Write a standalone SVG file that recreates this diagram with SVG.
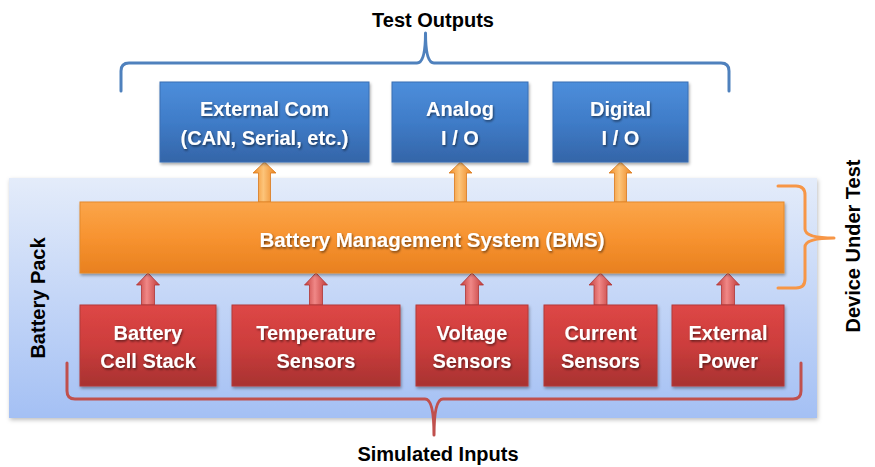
<svg xmlns="http://www.w3.org/2000/svg" width="875" height="467" viewBox="0 0 875 467">
<style>
.lbl{font-family:"Liberation Sans",Arial,sans-serif;font-weight:bold;fill:#000;}
.nt{font-family:"Liberation Sans",Arial,sans-serif;font-weight:bold;fill:#fff;text-anchor:middle;filter:url(#ts);}
.blue{fill:url(#gBlue);stroke:#3a6fb4;stroke-width:1;filter:url(#ds);}
.org{fill:url(#gOrg);stroke:#e58a2a;stroke-width:1;filter:url(#ds);}
.red{fill:url(#gRed);stroke:#b33a38;stroke-width:1;filter:url(#ds);}
.brk{fill:none;stroke-width:3;stroke-linecap:round;stroke-linejoin:round;}
.aO{fill:url(#gArO);stroke:#d9781c;stroke-width:0.8;}
.aR{fill:url(#gArR);stroke:#b03533;stroke-width:0.8;}
</style>
<defs>
<linearGradient id="gPack" x1="0" y1="0" x2="0" y2="1">
<stop offset="0" stop-color="#e4ecfa"/><stop offset="1" stop-color="#a4c0f4"/>
</linearGradient>
<linearGradient id="gBlue" x1="0" y1="0" x2="0" y2="1">
<stop offset="0" stop-color="#4d8edb"/><stop offset="0.5" stop-color="#3f7cc8"/><stop offset="1" stop-color="#3465a8"/>
</linearGradient>
<linearGradient id="gOrg" x1="0" y1="0" x2="0" y2="1">
<stop offset="0" stop-color="#fba54a"/><stop offset="0.5" stop-color="#f79330"/><stop offset="1" stop-color="#e8801f"/>
</linearGradient>
<linearGradient id="gRed" x1="0" y1="0" x2="0" y2="1">
<stop offset="0" stop-color="#de4746"/><stop offset="0.5" stop-color="#cc3d3c"/><stop offset="1" stop-color="#a83231"/>
</linearGradient>
<linearGradient id="gArO" x1="0" y1="0" x2="1" y2="0">
<stop offset="0" stop-color="#f08a22"/><stop offset="0.45" stop-color="#fcc47a"/><stop offset="1" stop-color="#ec8420"/>
</linearGradient>
<linearGradient id="gArR" x1="0" y1="0" x2="1" y2="0">
<stop offset="0" stop-color="#c23b3a"/><stop offset="0.45" stop-color="#f08887"/><stop offset="1" stop-color="#c03938"/>
</linearGradient>
<filter id="ds" x="-10%" y="-10%" width="120%" height="130%">
<feDropShadow dx="1" dy="2" stdDeviation="1.5" flood-color="#000" flood-opacity="0.35"/>
</filter>
<filter id="dsP" x="-5%" y="-5%" width="110%" height="110%">
<feDropShadow dx="1" dy="2" stdDeviation="2" flood-color="#000" flood-opacity="0.25"/>
</filter>
<filter id="ts" x="-10%" y="-20%" width="120%" height="150%">
<feDropShadow dx="1" dy="1.5" stdDeviation="0.8" flood-color="#000" flood-opacity="0.55"/>
</filter>
</defs>

<g id="battery-pack">
<rect x="9" y="178" width="808" height="240" fill="url(#gPack)" filter="url(#dsP)"/>
<text class="lbl" font-size="20" text-anchor="middle" transform="translate(45,298) rotate(-90)">Battery Pack</text>
</g>

<g id="connectors">
<path class="aO" d="M264.5,162 L276,173 L270.5,173 L270.5,202 L258.5,202 L258.5,173 L253,173 Z"/>
<path class="aO" d="M460.5,162 L472,173 L466.5,173 L466.5,202 L454.5,202 L454.5,173 L449,173 Z"/>
<path class="aO" d="M620.5,162 L632,173 L626.5,173 L626.5,202 L614.5,202 L614.5,173 L609,173 Z"/>
<path class="aR" d="M148,273 L159.5,285 L154.5,285 L154.5,305 L141.5,305 L141.5,285 L136.5,285 Z"/>
<path class="aR" d="M316,273 L327.5,285 L322.5,285 L322.5,305 L309.5,305 L309.5,285 L304.5,285 Z"/>
<path class="aR" d="M472,273 L483.5,285 L478.5,285 L478.5,305 L465.5,305 L465.5,285 L460.5,285 Z"/>
<path class="aR" d="M600.5,273 L612,285 L607,285 L607,305 L594,305 L594,285 L589,285 Z"/>
<path class="aR" d="M728,273 L739.5,285 L734.5,285 L734.5,305 L721.5,305 L721.5,285 L716.5,285 Z"/>
</g>

<g id="bracket-test-outputs">
<path class="brk" stroke="#4f81bd" d="M121,91 L121,71 Q121,63 129,63 L417,63 Q425.5,63 425.5,33 Q425.5,63 434,63 L721,63 Q729,63 729,71 L729,91"/>
<text class="lbl" font-size="20" x="433" y="27" text-anchor="middle">Test Outputs</text>
</g>

<g id="bracket-device-under-test">
<path class="brk" stroke="#f79646" d="M778,186 L796,186 Q805,186 805,195 L805,229 Q805,238 834,238 Q805,238 805,247 L805,279 Q805,288 796,288 L778,288"/>
<text class="lbl" font-size="20" text-anchor="middle" transform="translate(860,246) rotate(-90)">Device Under Test</text>
</g>

<g id="bracket-simulated-inputs">
<path class="brk" stroke="#c0504d" d="M67,363 L67,391 Q67,399 75,399 L425,399 Q434,399 434,435 Q434,399 443,399 L793,399 Q801,399 801,391 L801,363"/>
<text class="lbl" font-size="20" x="438" y="461" text-anchor="middle">Simulated Inputs</text>
</g>

<g id="external-com">
<rect class="blue" x="160" y="82" width="209" height="80"/>
<text class="nt" font-size="20" x="264.5" y="116">External Com</text>
<text class="nt" font-size="20" x="264.5" y="145">(CAN, Serial, etc.)</text>
</g>
<g id="analog-io">
<rect class="blue" x="392" y="82" width="136" height="80"/>
<text class="nt" font-size="20" x="460" y="116">Analog</text>
<text class="nt" font-size="20" x="460" y="145">I / O</text>
</g>
<g id="digital-io">
<rect class="blue" x="553" y="82" width="135" height="80"/>
<text class="nt" font-size="20" x="620.5" y="116">Digital</text>
<text class="nt" font-size="20" x="620.5" y="145">I / O</text>
</g>

<g id="bms">
<rect class="org" x="80" y="202" width="704" height="71"/>
<text class="nt" font-size="20.5" x="432" y="247">Battery Management System (BMS)</text>
</g>

<g id="battery-cell-stack">
<rect class="red" x="80" y="305" width="136" height="81"/>
<text class="nt" font-size="20" x="148" y="340">Battery</text>
<text class="nt" font-size="20" x="148" y="368">Cell Stack</text>
</g>
<g id="temperature-sensors">
<rect class="red" x="232" y="305" width="168" height="81"/>
<text class="nt" font-size="20" x="316" y="340">Temperature</text>
<text class="nt" font-size="20" x="316" y="368">Sensors</text>
</g>
<g id="voltage-sensors">
<rect class="red" x="416" y="305" width="112" height="81"/>
<text class="nt" font-size="20" x="472" y="340">Voltage</text>
<text class="nt" font-size="20" x="472" y="368">Sensors</text>
</g>
<g id="current-sensors">
<rect class="red" x="544" y="305" width="113" height="81"/>
<text class="nt" font-size="20" x="600.5" y="340">Current</text>
<text class="nt" font-size="20" x="600.5" y="368">Sensors</text>
</g>
<g id="external-power">
<rect class="red" x="672" y="305" width="112" height="81"/>
<text class="nt" font-size="20" x="728" y="340">External</text>
<text class="nt" font-size="20" x="728" y="368">Power</text>
</g>
</svg>
